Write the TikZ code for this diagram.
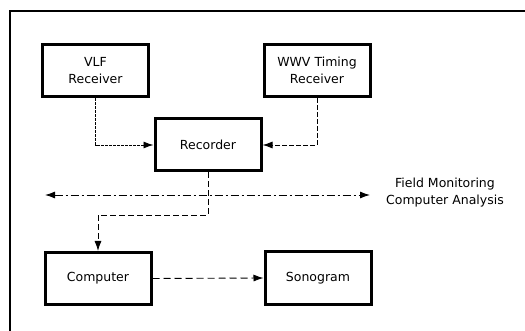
\documentclass[tikz,border=0pt]{standalone}
\usepackage{fontspec}
\setmainfont{DejaVu Sans}
\usetikzlibrary{arrows.meta,positioning}
\begin{document}
\begin{tikzpicture}[x=1pt,y=-1pt,
  blk/.style={draw,line width=3pt,minimum width=106pt,minimum height=52pt,
    align=center,inner sep=0pt,font=\fontsize{12.5}{17}\selectfont},
  conn/.style={line width=0.9pt,-{Latex[length=10pt,width=7pt]}},
  lbl/.style={align=center,font=\fontsize{12.5}{17}\selectfont}]
  \useasboundingbox (0,0) rectangle (525,331);
  % open frame: left side and top only
  \draw[line width=1.6pt] (10,331) -- (10,11) -- (525,11);

  \node[blk] (vlf)  at (95.5,71)  {VLF\\Receiver};
  \node[blk] (wwv)  at (317,70.5) {WWV Timing\\Receiver};
  \node[blk] (rec)  at (208,145)  {Recorder};
  \node[blk] (comp) at (98,278.5) {Computer};
  \node[blk] (sono) at (318,278)  {Sonogram};

  \coordinate (fl) at (45,195);
  \coordinate (fr) at (370,195);
  \coordinate (bend) at (208,215);
  \node[lbl] (lab) at (445,193) {Field Monitoring\\Computer Analysis};

  % signal paths into the recorder
  \draw[conn,dash pattern=on 3pt off 1pt] (vlf.south) |- (rec.west);
  \draw[conn,dash pattern=on 5pt off 2pt] (wwv.south) |- (rec.east);
  % field / analysis divider
  \draw[line width=0.9pt,dash pattern=on 8pt off 3pt on 2pt off 3pt,
        {Latex[length=10pt,width=7pt]}-{Latex[length=10pt,width=7pt]}] (fl) -- (fr);
  % recorded data to the computer and on to the sonogram
  \draw[conn,dash pattern=on 6pt off 3pt] (rec.south) -- (bend) -| (comp.north);
  \draw[conn,dash pattern=on 7pt off 4pt] (comp.east) -- (sono.west);
\end{tikzpicture}
\end{document}
